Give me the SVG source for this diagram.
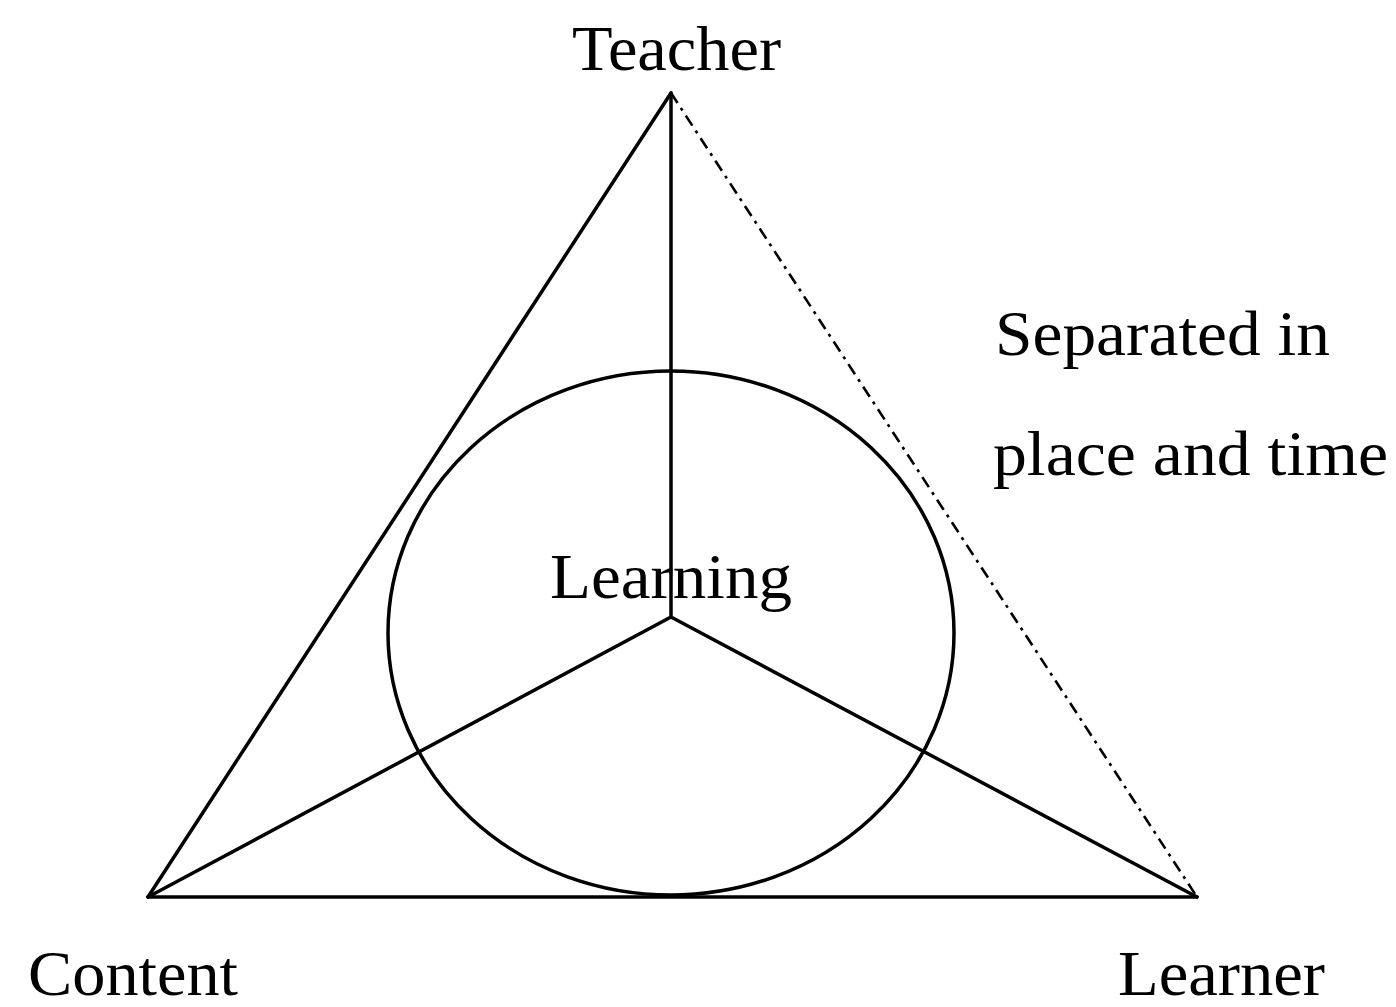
<svg xmlns="http://www.w3.org/2000/svg" width="1396" height="1007" viewBox="0 0 1396 1007">
<style>
.ln{stroke:#000;stroke-width:3.5;fill:none;stroke-linecap:round}
.dash{stroke:#000;stroke-width:2.6;fill:none;stroke-dasharray:12 6 3 6}
.lbl{font-family:"Liberation Serif","Times New Roman",serif;font-size:64px;fill:#000}
</style>
<rect width="1396" height="1007" fill="#fff"/>
<g id="connectors">
<line class="ln" x1="671" y1="93" x2="148" y2="897"/>
<line class="ln" x1="148" y1="897" x2="1197" y2="897"/>
<line class="dash" x1="671" y1="93" x2="1197" y2="897"/>
<line class="ln" x1="671" y1="93" x2="671" y2="617"/>
<line class="ln" x1="671" y1="617" x2="148" y2="897"/>
<line class="ln" x1="671" y1="617" x2="1197" y2="897"/>
</g>
<g id="learning">
<ellipse class="ln" cx="671" cy="633" rx="283" ry="262"/>
<text class="lbl" x="550" y="598" textLength="242" lengthAdjust="spacingAndGlyphs">Learning</text>
</g>
<g id="teacher"><text class="lbl" x="572" y="70" textLength="209" lengthAdjust="spacingAndGlyphs">Teacher</text></g>
<g id="content"><text class="lbl" x="28" y="995" textLength="210" lengthAdjust="spacingAndGlyphs">Content</text></g>
<g id="learner"><text class="lbl" x="1118" y="995" textLength="207" lengthAdjust="spacingAndGlyphs">Learner</text></g>
<g id="separation">
<text class="lbl" x="995" y="355" textLength="335" lengthAdjust="spacingAndGlyphs">Separated in</text>
<text class="lbl" x="993" y="475" textLength="395" lengthAdjust="spacingAndGlyphs">place and time</text>
</g>
</svg>
